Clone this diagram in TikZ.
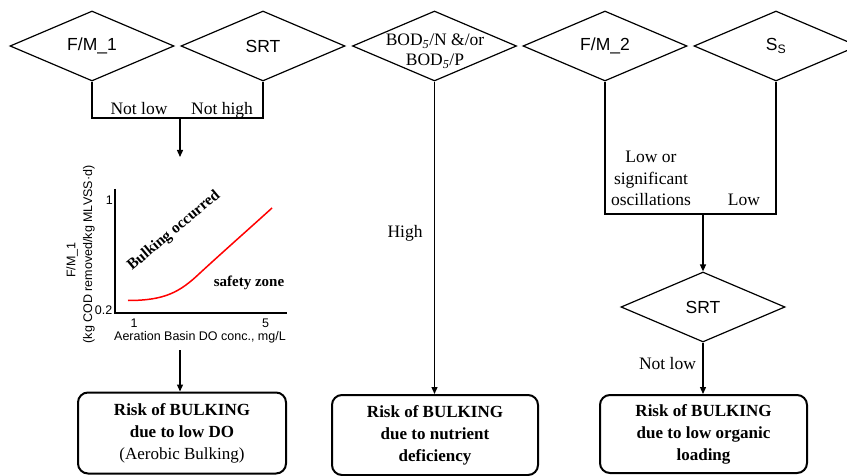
\documentclass[tikz,border=0pt]{standalone}
\usepackage{fontspec}
\setmainfont{Liberation Serif}
\setsansfont{Liberation Sans}
\usetikzlibrary{shapes.geometric,arrows.meta}
\begin{document}
\begin{tikzpicture}[x=1pt,y=-1pt,
  dia/.style={draw,line width=1.2pt,shape=diamond,minimum width=164pt,minimum height=70pt,inner sep=0pt},
  dlab/.style={font=\sffamily\fontsize{17.5}{20}\selectfont},
  slab/.style={font=\fontsize{17.5}{20}\selectfont,align=center,inner sep=0pt},
  lab/.style={font=\fontsize{17.5}{21.5}\selectfont,inner sep=0pt,anchor=base},
  res/.style={draw,line width=2pt,rounded corners=10pt,align=center,inner sep=0pt,font=\fontsize{17}{22}\selectfont},
  conn/.style={line width=1.3pt},
  arr/.style={line width=1.3pt,-{Triangle[length=7pt,width=6pt]}},
  axis/.style={line width=2pt},
  ctext/.style={font=\sffamily\fontsize{12.5}{14}\selectfont,inner sep=0pt},
]
\clip (0,0) rectangle (847,476);
% top decision diamonds
\node[dia,label={[dlab]center:F/M\_1}] (fm1) at (92,46) {};
\node[dia,label={[dlab]center:SRT}] (srt1) at (263,46) {};
\node[dia] (bod) at (434.5,46) {};
\node[slab] (bodt) at (435,51) {BOD\textsubscript{\textit{5}}/N \&/or\\BOD\textsubscript{\textit{5}}/P};
\node[dia,label={[dlab]center:F/M\_2}] (fm2) at (605,46) {};
\node[dia,label={[dlab]center:S\textsubscript{S}}] (ss) at (776,46) {};
% second SRT diamond
\node[dia,label={[dlab]center:SRT}] (srt2) at (703,307) {};
% result boxes
\node[res,minimum width=208pt,minimum height=81pt] (box1) at (182,433)
  {\textbf{Risk of BULKING}\\\textbf{due to low DO}\\(Aerobic Bulking)};
\node[res,minimum width=206pt,minimum height=80pt] (box2) at (435,435)
  {\textbf{Risk of BULKING}\\\textbf{due to nutrient}\\\textbf{deficiency}};
\node[res,minimum width=207pt,minimum height=78pt] (box3) at (703.5,434)
  {\textbf{Risk of BULKING}\\\textbf{due to low organic}\\\textbf{loading}};
% left branch
\coordinate (j1) at (180,118);
\coordinate (a1) at (180,157);
\draw[conn] (fm1.south) -- (fm1.south |- j1) -- (srt1.south |- j1) -- (srt1.south);
\draw[arr] (j1) -- (a1);
\node[lab] (nl1) at (139,115) {Not low};
\node[lab] (nh1) at (222,115) {Not high};
% chart
\coordinate (o) at (114.5,313);
\coordinate (ytop) at (114.5,189);
\coordinate (xend) at (287,313);
\draw[axis] (ytop) -- (o) -- (xend);
\node[ctext,anchor=east] (y1) at (113,200) {1};
\node[ctext,anchor=east] (y02) at (112.5,310) {0.2};
\node[ctext,anchor=base] (x1) at (134,327) {1};
\node[ctext,anchor=base] (x5) at (265.5,327) {5};
\node[ctext,anchor=base] (xl) at (200,340) {Aeration Basin DO conc., mg/L};
\node[ctext,rotate=90] (yl1) at (72,260) {F/M\_1};
\node[ctext,rotate=90] (yl2) at (89,254.5) {(kg COD removed/kg MLVSS·d)};
\draw[red,line width=1.5pt] (128,300.5) .. controls (165,300.5) and (180,292) .. (200,273)
  .. controls (225,250) and (250,228) .. (272,208);
\node[font=\bfseries\fontsize{15.5}{17}\selectfont,rotate=40,inner sep=0pt] (bo) at (174,231) {Bulking occurred};
\node[font=\bfseries\fontsize{15}{16}\selectfont,inner sep=0pt,anchor=base] (sz) at (249,287) {safety zone};
\coordinate (c2) at (180,350);
\draw[arr] (c2) -- (c2 |- box1.north);
% middle branch
\draw[arr] (bod.south) -- (bod.south |- box2.north);
\node[lab] (hi) at (405,237) {High};
% right branch
\coordinate (j2) at (703,214);
\draw[conn] (fm2.south) -- (fm2.south |- j2) -- (ss.south |- j2) -- (ss.south);
\draw[arr] (j2) -- (srt2.north);
\node[lab,align=center,anchor=north] (lo) at (651,151) {Low or\\significant\\oscillations};
\node[lab] (low) at (744,206) {Low};
\draw[arr] (srt2.south) -- (srt2.south |- box3.north);
\node[lab] (nl2) at (667.5,369) {Not low};
\end{tikzpicture}
\end{document}
